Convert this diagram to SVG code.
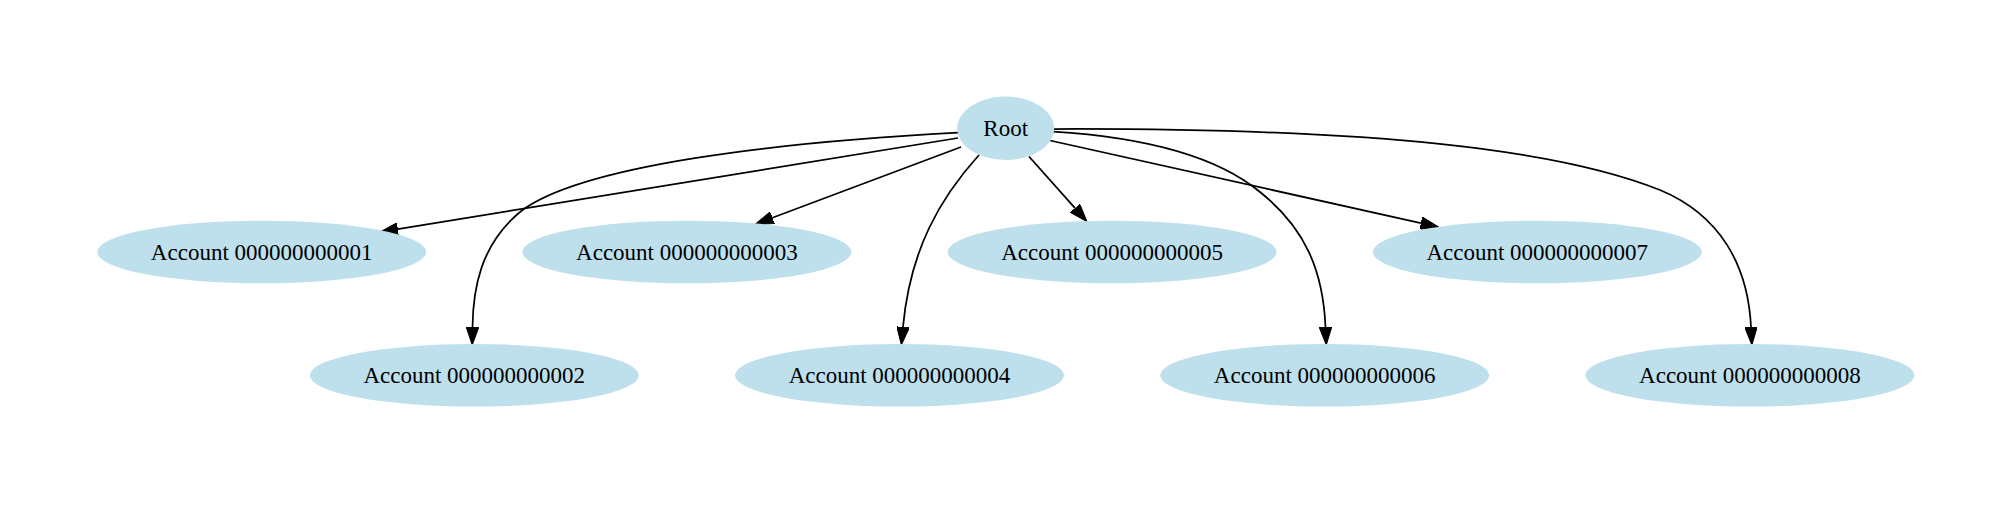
<svg xmlns="http://www.w3.org/2000/svg" width="2011" height="505" viewBox="0 0 2011 505">
<style>
.node ellipse{fill:#bedfec;stroke:none}
.node text{font-family:"Liberation Serif","Times New Roman",serif;font-size:23px;fill:#000;text-anchor:middle}
.edges path{fill:none;stroke:#000;stroke-width:1.75;marker-end:url(#arr)}
</style>
<defs>
<marker id="arr" viewBox="0 0 18 12.6" refX="0" refY="6.3" markerWidth="18" markerHeight="12.6" markerUnits="userSpaceOnUse" orient="auto">
<path d="M0,0 L18,6.3 L0,12.6 Z" fill="#000" stroke="#000" stroke-width="1"/>
</marker>
</defs>
<rect width="2011" height="505" fill="#fff"/>
<g id="edges" class="edges">
<path d="M958,138 L397.8,229.1"/>
<path d="M958,132.7 C780,142 580,165 520,212 C480,245 473,290 472.5,327"/>
<path d="M961,147 L772.4,217.7"/>
<path d="M979,155 C940,198 910,250 903,327"/>
<path d="M1029,156.5 L1075,208.1"/>
<path d="M1053,131.7 C1140,137 1215,155 1260,192 C1305,228 1323,270 1325.5,327"/>
<path d="M1050,140.5 L1420.9,223.1"/>
<path d="M1054,129 C1380,128 1560,150 1660,190 C1720,215 1748,265 1751,327"/>
</g>
<g id="root" class="node"><ellipse cx="1005.7" cy="128.3" rx="48.5" ry="31.7"/><text x="1005.7" y="136">Root</text></g>
<g id="acc1" class="node"><ellipse cx="261.7" cy="252" rx="164.5" ry="31.3"/><text x="261.7" y="259.5">Account 000000000001</text></g>
<g id="acc2" class="node"><ellipse cx="474.3" cy="375.3" rx="164.5" ry="31.3"/><text x="474.3" y="382.8">Account 000000000002</text></g>
<g id="acc3" class="node"><ellipse cx="686.9" cy="252" rx="164.5" ry="31.3"/><text x="686.9" y="259.5">Account 000000000003</text></g>
<g id="acc4" class="node"><ellipse cx="899.5" cy="375.3" rx="164.5" ry="31.3"/><text x="899.5" y="382.8">Account 000000000004</text></g>
<g id="acc5" class="node"><ellipse cx="1112.1" cy="252" rx="164.5" ry="31.3"/><text x="1112.1" y="259.5">Account 000000000005</text></g>
<g id="acc6" class="node"><ellipse cx="1324.7" cy="375.3" rx="164.5" ry="31.3"/><text x="1324.7" y="382.8">Account 000000000006</text></g>
<g id="acc7" class="node"><ellipse cx="1537.3" cy="252" rx="164.5" ry="31.3"/><text x="1537.3" y="259.5">Account 000000000007</text></g>
<g id="acc8" class="node"><ellipse cx="1749.9" cy="375.3" rx="164.5" ry="31.3"/><text x="1749.9" y="382.8">Account 000000000008</text></g>
</svg>
